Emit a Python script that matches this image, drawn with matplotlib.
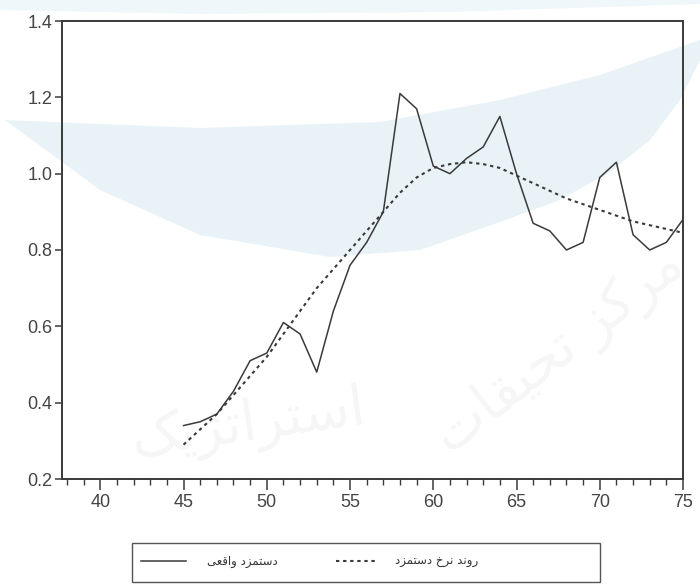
import numpy as np
import matplotlib.pyplot as plt
from matplotlib.patches import Polygon, Rectangle
from matplotlib.lines import Line2D
from matplotlib.ticker import MultipleLocator

plt.rcParams['font.family'] = ['Liberation Sans', 'DejaVu Sans']

years = list(range(45, 76))

# actual wage (solid)
wage_actual = [0.34, 0.35, 0.37, 0.43, 0.51, 0.53, 0.61, 0.58, 0.48, 0.64,
               0.76, 0.82, 0.90, 1.21, 1.17, 1.02, 1.00, 1.04, 1.07, 1.15,
               1.00, 0.87, 0.85, 0.80, 0.82, 0.99, 1.03, 0.84, 0.80, 0.82,
               0.88]

# wage rate trend (dotted)
wage_trend = [0.29, 0.33, 0.37, 0.42, 0.47, 0.52, 0.58, 0.64, 0.70, 0.75,
              0.80, 0.85, 0.90, 0.95, 0.99, 1.015, 1.025, 1.03, 1.025, 1.015,
              0.995, 0.975, 0.955, 0.935, 0.92, 0.905, 0.89, 0.875, 0.865,
              0.855, 0.845]

# Persian labels written in presentation forms, visual (left-to-right) order
label_actual = '\uFEF0\uFECC\uFED7\uFE8D\uFEED \uFEA9\uFEB0\uFEE4\uFE98\uFEB3\uFEA9'
label_trend = ('\uFEA9\uFEB0\uFEE4\uFE98\uFEB3\uFEA9 \uFEA5\uFEAE\uFEE7 '
               '\uFEAA\uFEE7\uFEED\uFEAD')
wm_right = '\uFE95\uFE8E\uFED8\uFEF4\uFEA4\uFE97 \uFEB0\uFB90\uFEAE\uFEE3'
wm_left = '\uFB8F\uFEF3\uFB8B\uFE97\uFE8D\uFEAE\uFE98\uFEB3\uFE8D'

ink = '#3a3a3a'

fig = plt.figure(figsize=(7.0, 5.84), dpi=100)

# pale blue swoosh behind everything (figure pixel coords, y from top)
W, H = 700, 584
lower = [(5, 120), (100, 190), (200, 235), (330, 257), (420, 250), (500, 222),
         (560, 200), (610, 172), (650, 140), (680, 100), (700, 60)]
upper = [(700, 40), (600, 75), (500, 100), (380, 122), (200, 128), (5, 120)]
pts = [(x / W, 1 - y / H) for x, y in lower + upper]
fig.patches.append(Polygon(pts, closed=True, transform=fig.transFigure,
                           facecolor='#e9f3f7', edgecolor='none', zorder=-2))
top_band = [(0, 0), (700, 0), (700, 4), (450, 12), (200, 14), (0, 10)]
fig.patches.append(Polygon([(x / W, 1 - y / H) for x, y in top_band], closed=True,
                           transform=fig.transFigure, facecolor='#f0f7fa',
                           edgecolor='none', zorder=-2))

ax = fig.add_axes([62 / W, 1 - 479 / H, (683 - 62) / W, (479 - 21) / H])
ax.patch.set_alpha(0)

# faint calligraphic watermark
ax.text(0.80, 0.28, wm_right, transform=ax.transAxes, fontsize=40,
        color='#000000', alpha=0.04, rotation=38, ha='center', va='center',
        family='DejaVu Sans')
ax.text(0.30, 0.12, wm_left, transform=ax.transAxes, fontsize=40,
        color='#000000', alpha=0.04, rotation=8, ha='center', va='center',
        family='DejaVu Sans')

ax.plot(years, wage_actual, color=ink, lw=1.1, zorder=3)
ax.plot(years, wage_trend, color=ink, lw=1.5, linestyle=(0, (1.6, 1.8)), zorder=3)

ax.set_xlim(37.7, 75.0)
ax.set_ylim(0.2, 1.4)
ax.xaxis.set_major_locator(MultipleLocator(5))
ax.xaxis.set_minor_locator(MultipleLocator(1))
ax.yaxis.set_major_locator(MultipleLocator(0.2))
ax.yaxis.set_major_formatter(plt.FuncFormatter(lambda v, p: f'{v:.1f}'))

for s in ax.spines.values():
    s.set_color(ink)
    s.set_linewidth(1.4)

ax.tick_params(axis='x', which='major', direction='out', length=8, width=1.1,
               color=ink, labelsize=13, labelcolor='#444444', pad=3)
ax.tick_params(axis='x', which='minor', direction='out', length=4, width=1.0,
               color=ink)
ax.tick_params(axis='y', which='major', direction='out', length=5, width=1.1,
               color=ink, labelsize=13, labelcolor='#444444', pad=2)
ax.tick_params(top=False, right=False)

# legend box below the axes, laid out right-to-left
fig.patches.append(Rectangle((132 / W, 1 - 582 / H), (600 - 132) / W, 39 / H,
                             transform=fig.transFigure, facecolor='none',
                             edgecolor='#555555', lw=1.0))
yl = 1 - 561 / H
fig.lines.append(Line2D([141 / W, 186 / W], [yl, yl], transform=fig.transFigure,
                        color=ink, lw=1.1))
fig.text(242 / W, yl, label_actual, ha='center', va='center', fontsize=8.5,
         color='#333333', family='DejaVu Sans')
fig.lines.append(Line2D([336 / W, 376 / W], [yl, yl], transform=fig.transFigure,
                        color=ink, lw=1.5, linestyle=(0, (1.6, 1.8))))
fig.text(437 / W, yl, label_trend, ha='center', va='center', fontsize=8.5,
         color='#333333', family='DejaVu Sans')

fig.savefig('out.png', dpi=100)
